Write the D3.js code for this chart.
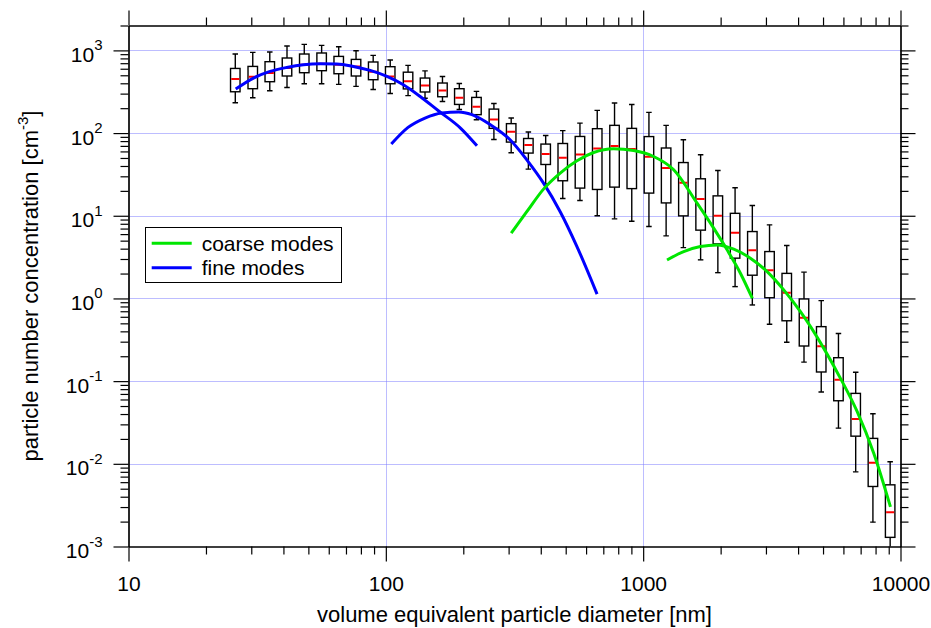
<!DOCTYPE html>
<html><head><meta charset="utf-8">
<script src="https://cdn.jsdelivr.net/npm/d3@7"></script>
<style>body{margin:0;background:#fff}svg{display:block}text{font-family:"Liberation Sans",Arial,sans-serif;fill:#000}</style>
</head><body><svg id="c" width="931" height="628"></svg>
<script>
// ---- data ----
const diameters = [26.0, 30.4, 35.4, 41.3, 48.2, 56.3, 65.6, 76.6, 89.3, 104, 122, 142, 166, 193, 225, 263, 307, 358, 418, 487, 568, 663, 774, 903, 1053, 1228, 1433, 1672, 1951, 2276, 2656, 3098, 3614, 4217, 4920, 5740, 6697, 7813, 9116];
const whiskerHigh = [904, 946, 957, 1130, 1183, 1149, 1109, 992, 870, 765, 658, 565, 484, 398, 319, 228, 152, 103, 93.5, 107, 132, 188, 231, 222, 178, 124, 83, 54.6, 35.3, 21.8, 13.3, 7.76, 4.36, 2.08, 0.94, 0.377, 0.128, 0.0403, 0.0106];
const q3 = [605, 640, 730, 809, 904, 930, 846, 778, 724, 635, 545, 463, 403, 344, 270, 195, 130, 86, 73.6, 74.8, 91, 113, 124, 114, 90.7, 66, 44, 28, 17.4, 10.7, 6.44, 3.69, 2.01, 0.986, 0.456, 0.192, 0.0711, 0.0203, 0.00557];
const medians = [451, 481, 533, 612, 671, 690, 670, 640, 552, 484, 424, 377, 328, 267, 208, 146, 104, 71.6, 55.7, 50.2, 55.1, 65.1, 69.6, 64, 51.9, 37.7, 25, 16, 9.97, 6.21, 3.84, 2.19, 1.17, 0.586, 0.264, 0.104, 0.0348, 0.0103, 0.0026];
const q1 = [316, 344, 418, 490, 537, 568, 522, 490, 442, 395, 342, 314, 275, 222, 167, 114, 77.8, 57.3, 41.7, 26.5, 21.6, 20.8, 22.2, 21.3, 18.8, 14.3, 9.97, 6.7, 4.57, 3.07, 1.91, 1.02, 0.537, 0.266, 0.129, 0.0579, 0.0216, 0.00532, 0.00129];
const whiskerLow = [233, 267, 325, 356, 395, 395, 388, 367, 337, 301, 284, 264, 241, 193, 145, 83.7, 57.8, 36.6, 24.3, 16.2, 15.3, 10.0, 9.17, 8.6, 7.40, 5.71, 4.12, 2.93, 2.05, 1.39, 0.834, 0.487, 0.295, 0.170, 0.0738, 0.0270, 0.0080, 0.00197, 0.0008];

const fine1D = [26.1, 30.6, 35.5, 41.2, 47.8, 55.6, 64.5, 74.8, 86.9, 101, 117, 136, 160, 195, 226];
const fine1N = [341, 463, 557, 622, 671, 690, 685, 640, 573, 484, 384, 277, 186, 115, 70.2];
const fine2D = [105, 122, 142, 165, 192, 216, 255, 304, 353, 410, 476, 553, 662];
const fine2N = [73.6, 117, 152, 175, 180, 167, 126, 83, 47.5, 24.8, 11.2, 4.24, 1.13];
const coarse1D = [307, 353, 410, 476, 553, 642, 767, 918, 1098, 1314, 1620, 1879, 2119, 2387, 2657];
const coarse1N = [6.15, 11.2, 21, 32.8, 46.2, 58.2, 64.6, 61.5, 52.1, 36, 14.2, 7.08, 3.87, 2.02, 1.00];
const coarse2D = [1238, 1437, 1668, 1938, 2249, 2610, 3032, 3517, 4085, 5035, 5844, 6789, 7870, 9141];
const coarse2N = [2.92, 3.69, 4.24, 4.44, 3.94, 3.07, 2.11, 1.27, 0.692, 0.249, 0.108, 0.0427, 0.0134, 0.00301];

const xTickLabels = ["10", "100", "1000", "10000"];
const yExponents = ["-3", "-2", "-1", "0", "1", "2", "3"];
const legendLabels = ["coarse modes", "fine modes"];
const colors = {coarse: "#00e600", fine: "#0000ff"};

// ---- layout ----
const L = 128.5, R = 900.5, T = 25.5, B = 546.5;
const svg = d3.select("#c");
const x = d3.scaleLog().domain([10, 10000]).range([L, R]);
const y = d3.scaleLog().domain([0.001, 2000]).range([B, T]);

const xMaj = xTickLabels.map(Number);
const xMin = x.ticks().filter(v => !xMaj.some(m => Math.abs(m - v) < 1e-9));
const yMaj = yExponents.map(e => Math.pow(10, +e));
const yMin = y.ticks().filter(v => !yMaj.some(m => Math.abs(m - v) / m < 1e-6));

// clip
svg.append("defs").append("clipPath").attr("id", "pa")
  .append("rect").attr("x", L).attr("y", T).attr("width", R - L).attr("height", B - T);

// grid
const grid = svg.append("g").attr("stroke", "#7a7aff").attr("stroke-width", 1).attr("stroke-dasharray", "1,1");
yMaj.filter(v => v > 0.001 && v < 2000).forEach(v => {
  grid.append("line").attr("x1", L).attr("x2", R).attr("y1", Math.round(y(v)) + 0.5).attr("y2", Math.round(y(v)) + 0.5);
});
[100, 1000].forEach(v => {
  grid.append("line").attr("y1", T).attr("y2", B).attr("x1", Math.round(x(v)) + 0.5).attr("x2", Math.round(x(v)) + 0.5);
});

// boxes
const gb = svg.append("g").attr("clip-path", "url(#pa)");
const bw = 9.5, cw = 5.5;
diameters.forEach((d, i) => {
  const cx = x(d);
  const g = gb.append("g");
  g.append("line").attr("x1", cx).attr("x2", cx).attr("y1", y(whiskerHigh[i])).attr("y2", y(q3[i]))
    .attr("stroke", "#000").attr("stroke-width", 1.4);
  g.append("line").attr("x1", cx).attr("x2", cx).attr("y1", y(q1[i])).attr("y2", y(whiskerLow[i]))
    .attr("stroke", "#000").attr("stroke-width", 1.4);
  g.append("line").attr("x1", cx - cw / 2).attr("x2", cx + cw / 2).attr("y1", y(whiskerHigh[i])).attr("y2", y(whiskerHigh[i]))
    .attr("stroke", "#000").attr("stroke-width", 1.4);
  g.append("line").attr("x1", cx - cw / 2).attr("x2", cx + cw / 2).attr("y1", y(whiskerLow[i])).attr("y2", y(whiskerLow[i]))
    .attr("stroke", "#000").attr("stroke-width", 1.4);
  g.append("rect").attr("x", cx - bw / 2).attr("width", bw).attr("y", y(q3[i])).attr("height", y(q1[i]) - y(q3[i]))
    .attr("fill", "#fff").attr("stroke", "#000").attr("stroke-width", 1.4);
  g.append("line").attr("x1", cx - bw / 2 + 0.7).attr("x2", cx + bw / 2 - 0.7).attr("y1", y(medians[i])).attr("y2", y(medians[i]))
    .attr("stroke", "#ff0000").attr("stroke-width", 2);
});

// curves
const line = d3.line().x(p => x(p[0])).y(p => y(p[1])).curve(d3.curveMonotoneX);
const gc = svg.append("g").attr("clip-path", "url(#pa)").attr("fill", "none").attr("stroke-width", 3).attr("stroke-linecap", "butt");
[[fine1D, fine1N, colors.fine], [fine2D, fine2N, colors.fine], [coarse1D, coarse1N, colors.coarse], [coarse2D, coarse2N, colors.coarse]]
  .forEach(([D, N, c]) => {
    gc.append("path").attr("d", line(D.map((d, i) => [d, N[i]]))).attr("stroke", c);
  });

// axes
function styleAxis(g) {
  g.selectAll("path").attr("stroke", "#000").attr("stroke-width", 1.2);
  g.selectAll("line").attr("stroke", "#000").attr("stroke-width", 1.2);
}
const fmt = d3.format("d");
svg.append("g").attr("transform", `translate(0,${B})`)
  .call(d3.axisBottom(x).tickValues(xMaj).tickSize(15).tickSizeOuter(0).tickPadding(15).tickFormat(fmt))
  .call(g => g.selectAll("text").attr("font-size", 21).attr("font-family", "Liberation Sans, Arial, sans-serif"))
  .call(styleAxis);
svg.append("g").attr("transform", `translate(0,${B})`)
  .call(d3.axisBottom(x).tickValues(xMin).tickSize(8).tickSizeOuter(0).tickFormat(""))
  .call(styleAxis);
svg.append("g").attr("transform", `translate(0,${T})`)
  .call(d3.axisTop(x).tickValues(xMaj).tickSize(15).tickSizeOuter(0).tickFormat(""))
  .call(styleAxis);
svg.append("g").attr("transform", `translate(0,${T})`)
  .call(d3.axisTop(x).tickValues(xMin).tickSize(8).tickSizeOuter(0).tickFormat(""))
  .call(styleAxis);
svg.append("g").attr("transform", `translate(${L},0)`)
  .call(d3.axisLeft(y).tickValues(yMaj).tickSize(15).tickSizeOuter(0).tickFormat(""))
  .call(styleAxis);
svg.append("g").attr("transform", `translate(${L},0)`)
  .call(d3.axisLeft(y).tickValues(yMin).tickSize(8).tickSizeOuter(0).tickFormat(""))
  .call(styleAxis);
svg.append("g").attr("transform", `translate(${R},0)`)
  .call(d3.axisRight(y).tickValues(yMaj).tickSize(15).tickSizeOuter(0).tickFormat(""))
  .call(styleAxis);
svg.append("g").attr("transform", `translate(${R},0)`)
  .call(d3.axisRight(y).tickValues(yMin).tickSize(8).tickSizeOuter(0).tickFormat(""))
  .call(styleAxis);

// y tick labels with superscripts
yMaj.forEach((v, i) => {
  const t = svg.append("text").attr("x", 102.5).attr("y", y(v) + 11.6).attr("text-anchor", "end").attr("font-size", 21);
  t.append("tspan").text("10");
  t.append("tspan").attr("font-size", 15).attr("dy", -11.6).text(yExponents[i]);
});

// axis titles
svg.append("text").attr("x", (L + R) / 2).attr("y", 622).attr("text-anchor", "middle").attr("font-size", 22)
  .text("volume equivalent particle diameter [nm]");
const yl = svg.append("text").attr("transform", `translate(38,${(T + B) / 2}) rotate(-90)`).attr("text-anchor", "middle").attr("font-size", 22);
yl.append("tspan").text("particle number concentration [cm");
yl.append("tspan").attr("font-size", 15).attr("dy", -10).text("-3");
yl.append("tspan").attr("dy", 10).text("]");

// legend
const lg = svg.append("g");
lg.append("rect").attr("x", 145.5).attr("y", 227.5).attr("width", 196).attr("height", 55)
  .attr("fill", "#fff").attr("stroke", "#000").attr("stroke-width", 1);
[colors.coarse, colors.fine].forEach((c, i) => {
  const yy = 243.3 + i * 24.4;
  lg.append("line").attr("x1", 151.7).attr("x2", 191.7).attr("y1", yy).attr("y2", yy).attr("stroke", c).attr("stroke-width", 3);
  lg.append("text").attr("x", 201.7).attr("y", yy + 7.5).attr("font-size", 21).text(legendLabels[i]);
});
</script></body></html>
